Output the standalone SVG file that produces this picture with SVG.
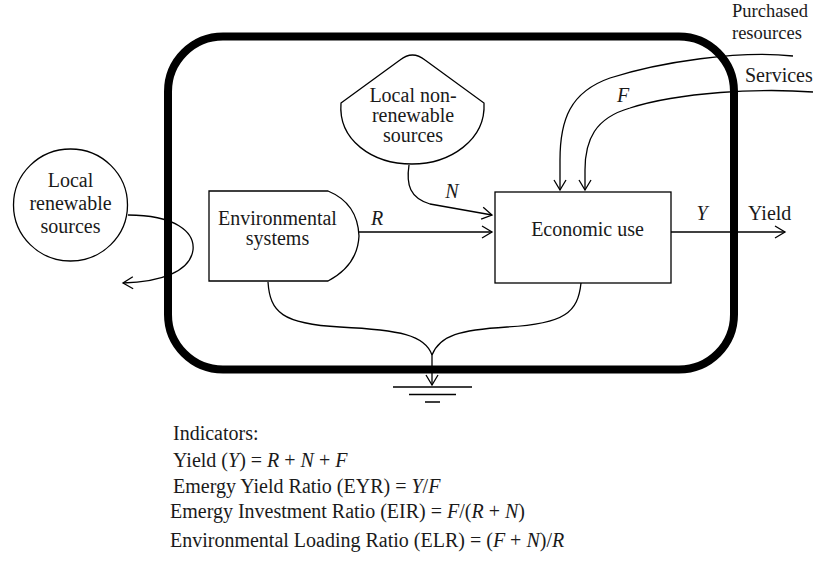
<svg xmlns="http://www.w3.org/2000/svg" width="821" height="562" viewBox="0 0 821 562">
<style>
text{font-family:"Liberation Serif","Times New Roman",serif;font-size:20px;fill:#1a1a1a}
.c{text-anchor:middle}
.i{font-style:italic}
.s{font-size:18.5px}
.ln{fill:none;stroke:#000;stroke-width:1.3}
.nd{fill:#fff;stroke:#000;stroke-width:1.3}
.ar{marker-end:url(#ah)}
</style>
<defs>
<marker id="ah" markerUnits="userSpaceOnUse" markerWidth="14" markerHeight="14" refX="11" refY="7" orient="auto">
<path d="M1,1 L11,7 L1,13" fill="none" stroke="#000" stroke-width="1.3"/>
</marker>
</defs>
<rect width="821" height="562" fill="#fff"/>
<g id="connectors">
<path class="ln ar" d="M128,215 C175,215 195,232 193,250 C190,272 160,282 123,283"/>
<path class="ln ar" d="M359,232 H492"/>
<path class="ln ar" d="M409,165 C406,185 410,198 430,204 L492,215"/>
<path class="ln ar" d="M793,56 C740,50 660,62 610,78 C570,92 560,120 560,160 L560,190"/>
<path class="ln ar" d="M813,92 C760,88 680,92 630,108 C595,118 585,140 585,170 L585,190"/>
<path class="ln ar" d="M671,232 H785"/>
<path class="ln" d="M268,282 C270,312 282,324 340,327 C400,330 425,335 432,355"/>
<path class="ln" d="M581,283 C578,312 565,324 507,327 C460,330 440,335 432,355"/>
<path class="ln ar" d="M432,355 V385"/>
</g>
<g id="frame">
<rect x="168" y="36.5" width="566" height="333" rx="55" ry="55" fill="none" stroke="#000" stroke-width="8"/>
</g>
<g id="ground">
<path class="ln" d="M393,387 H472 M409,394.5 H456 M425,402 H440"/>
</g>
<g id="local-renewable">
<ellipse class="nd" cx="70.5" cy="205" rx="57" ry="56"/>
<text class="c" x="70.5" y="187">Local</text>
<text class="c" x="70.5" y="210">renewable</text>
<text class="c" x="70.5" y="233">sources</text>
</g>
<g id="local-nonrenewable">
<path class="nd" d="M341,103 L400,60 Q412.5,50 425,60 L484,103 C486,140 450,164 412,164 C372,164 338,140 341,103 Z"/>
<text class="c" x="413" y="102">Local non-</text>
<text class="c" x="413" y="122">renewable</text>
<text class="c" x="413" y="142">sources</text>
</g>
<g id="environmental-systems">
<path class="nd" d="M209,191 H328 C345,198 358,212 359,236 C358,258 345,272 328,281 H209 Z"/>
<text class="c" x="277.5" y="225">Environmental</text>
<text class="c" x="277.5" y="245">systems</text>
</g>
<g id="economic-use">
<rect class="nd" x="495" y="192" width="176" height="91"/>
<text class="c" x="587.5" y="236">Economic use</text>
</g>
<g id="labels">
<text class="c i" x="377" y="225">R</text>
<text class="c i" x="452" y="198">N</text>
<text class="c i" x="623" y="102">F</text>
<text class="c i" x="702" y="220">Y</text>
<text x="748" y="220">Yield</text>
<text class="s" x="732" y="17">Purchased</text>
<text class="s" x="732" y="39">resources</text>
<text x="745" y="82">Services</text>
</g>
<g id="indicators">
<text x="173" y="440">Indicators:</text>
<text x="173" y="467">Yield (<tspan class="i">Y</tspan>) = <tspan class="i">R</tspan> + <tspan class="i">N</tspan> + <tspan class="i">F</tspan></text>
<text x="173" y="493">Emergy Yield Ratio (EYR) = <tspan class="i">Y</tspan>/<tspan class="i">F</tspan></text>
<text x="170" y="518">Emergy Investment Ratio (EIR) = <tspan class="i">F</tspan>/(<tspan class="i">R</tspan> + <tspan class="i">N</tspan>)</text>
<text x="170" y="547">Environmental Loading Ratio (ELR) = (<tspan class="i">F</tspan> + <tspan class="i">N</tspan>)/<tspan class="i">R</tspan></text>
</g>
</svg>
